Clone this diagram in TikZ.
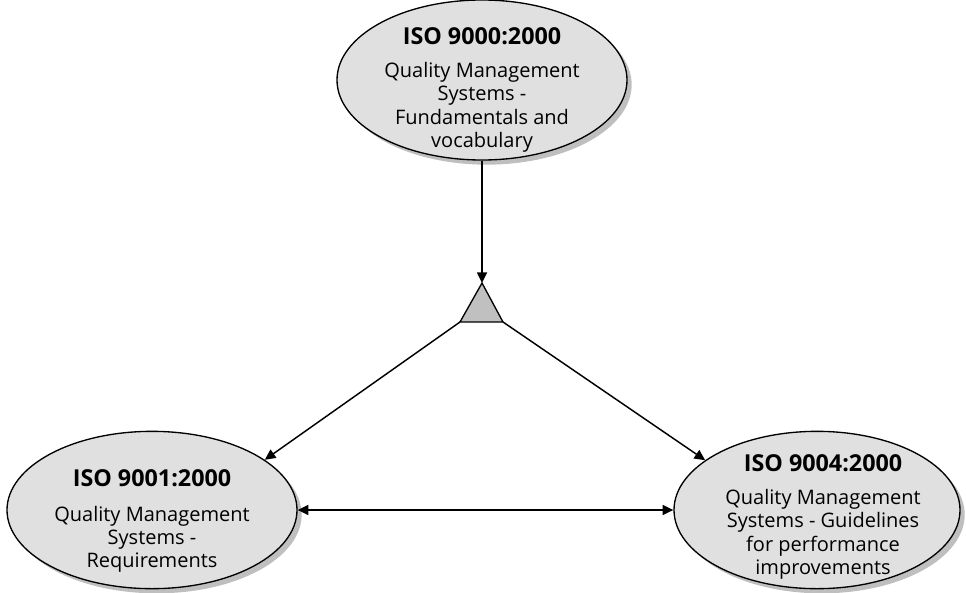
\documentclass[tikz,border=0pt]{standalone}
\usepackage{fontspec}
\setmainfont{Open Sans}
\usetikzlibrary{shapes.geometric,shadows,arrows.meta}
\definecolor{ellfill}{RGB}{224,224,224}
\definecolor{trifill}{RGB}{192,192,192}
\begin{document}
\begin{tikzpicture}[x=0.75pt,y=-0.75pt,
  ell/.style={ellipse, draw=black, line width=1pt, fill=ellfill,
    minimum width=217.5pt, minimum height=118pt, inner sep=0pt,
    drop shadow={shadow xshift=3.5pt, shadow yshift=-3.5pt, fill=black!25, opacity=1}},
  lbl/.style={align=center, anchor=north, inner sep=0pt, font=\fontsize{15}{17.3}\selectfont},
  con/.style={line width=1.1pt, -{Triangle[length=8pt,width=7.5pt]}},
  dcon/.style={line width=1.1pt, {Triangle[length=8pt,width=7.5pt]}-{Triangle[length=8pt,width=7.5pt]}}
]
\useasboundingbox (0,0) rectangle (966,592);
% ellipses
\node[ell, minimum height=120pt] (top) at (482,80) {};
\node[ell] (left) at (152,510) {};
\node[ell, minimum width=214.5pt] (right) at (817,510) {};
% labels
\node[lbl] (topt) at (482,27) {{\bfseries\fontsize{17.5}{20}\selectfont ISO 9000:2000}\\[8pt]Quality Management\\Systems -\\Fundamentals and\\vocabulary};
\node[lbl] (leftt) at (152,469) {{\bfseries\fontsize{17.5}{20}\selectfont ISO 9001:2000}\\[9pt]Quality Management\\Systems -\\Requirements};
\node[lbl] (rightt) at (823,454) {{\bfseries\fontsize{17.5}{20}\selectfont ISO 9004:2000}\\[8pt]Quality Management\\Systems - Guidelines\\for performance\\improvements};
% triangle
\coordinate (apex) at (482,283);
\coordinate (tbl) at (460,322);
\coordinate (tbr) at (503,322);
\draw[fill=trifill, line width=1pt, line join=miter] (apex) -- (tbl) -- (tbr) -- cycle;
% connectors
\draw[con] (top.south) -- (apex);
\draw[con] (tbl) -- (left.24);
\draw[con] (tbr) -- (right.156);
\draw[dcon] (left.east) -- (right.west);
\end{tikzpicture}
\end{document}
